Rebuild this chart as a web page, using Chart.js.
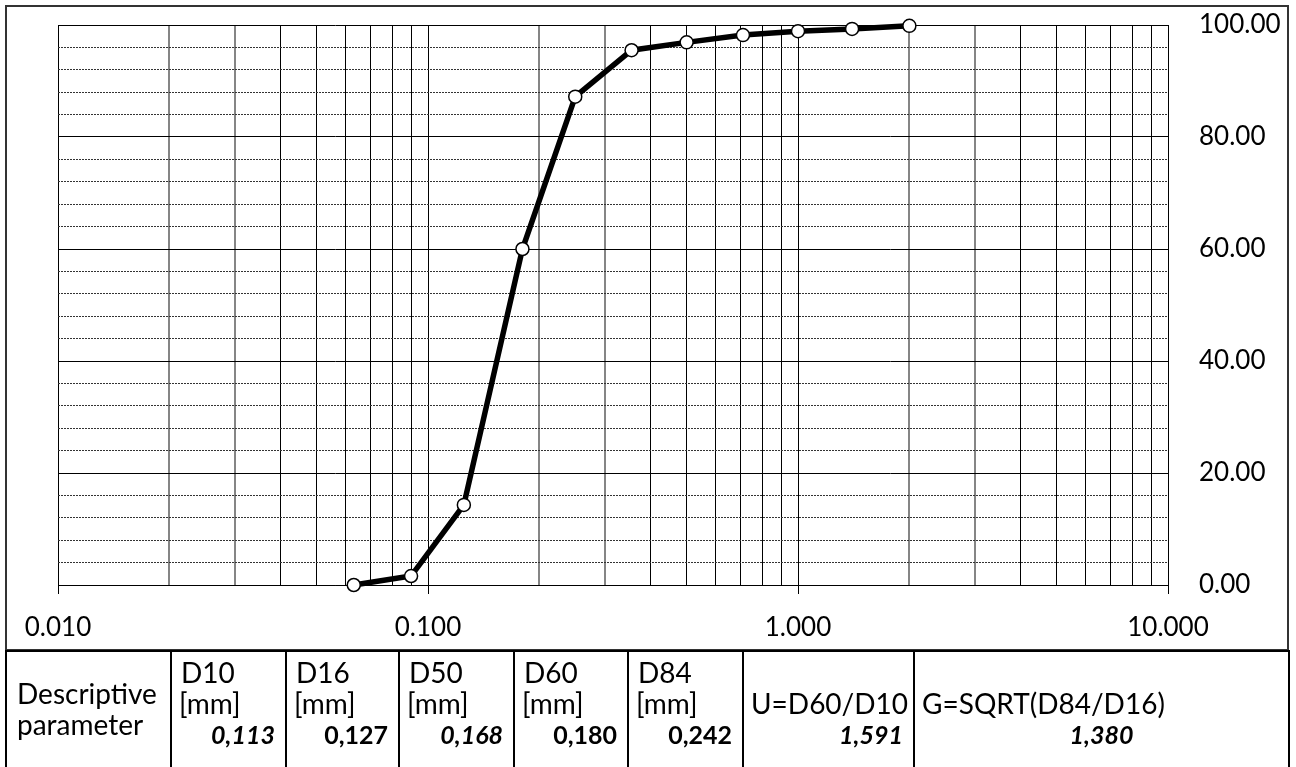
<!DOCTYPE html>
<html>
<head>
<meta charset="utf-8">
<script src="https://cdn.jsdelivr.net/npm/chart.js@4.4.1/dist/chart.umd.min.js"></script>
<style>
  html, body { margin: 0; padding: 0; background: #fff; width: 1296px; height: 767px; overflow: hidden; }
  #wrap { position: absolute; left: 0; top: 0; width: 1296px; height: 650px; }
  #frame { position: absolute; left: 5px; top: 5px; width: 1280px; height: 642px; border: 2px solid #333; pointer-events: none; }
  #table { position: absolute; left: 0; top: 650px; width: 1296px; height: 130px; font-family: Lato, sans-serif; font-size: 28px; color: #000; }
  .col { position: absolute; top: 0; height: 130px; border-left: 2px solid #000; border-top: 2px solid #000; box-sizing: border-box; }
  .line { height: 31px; line-height: 31px; white-space: nowrap; }
  .val { font-weight: bold; font-size: 25px; }
</style>
</head>
<body>
<div id="wrap"><canvas id="c" width="1296" height="650"></canvas></div>
<div id="frame"></div>
<div id="table"></div>
<script>
// ---- data ----
const sieveSizes = [0.063, 0.09, 0.125, 0.18, 0.25, 0.355, 0.5, 0.71, 1.0, 1.4, 2.0];
const passingPercent = [0.0, 1.6, 14.3, 60.0, 87.2, 95.5, 96.9, 98.2, 98.9, 99.3, 99.85];
const xTickValues = [0.01,0.02,0.03,0.04,0.05,0.06,0.07,0.08,0.09,
                     0.1,0.2,0.3,0.4,0.5,0.6,0.7,0.8,0.9,
                     1,2,3,4,5,6,7,8,9,10];
const xMin = 0.01, xMax = 10;
const yMin = 0, yMax = 100, yStep = 4, yLabelStep = 20;

const firstColText = ['Descriptive', 'parameter'];
const paramNames = ['D10', 'D16', 'D50', 'D60', 'D84', '', ''];
const paramUnits = ['[mm]', '[mm]', '[mm]', '[mm]', '[mm]', 'U=D60/D10', 'G=SQRT(D84/D16)'];
const paramValues = ['0,113', '0,127', '0,168', '0,180', '0,242', '1,591', '1,380'];
const paramItalic = [true, false, true, false, false, true, true];

// ---- layout constants ----
const AREA = { left: 58, top: 25, right: 1168, bottom: 585 };
const colEdges = [5, 170, 285, 398, 513, 627, 742, 913, 1288];
const valAlign = ['right', 'right', 'right', 'right', 'right', 'right', 'center'];

function significand(v) {
  const e = Math.floor(Math.log10(v) + 1e-9);
  return Math.round(v / Math.pow(10, e));
}
function isDecade(v) { return significand(v) === 1; }

Chart.defaults.font.family = 'Lato, sans-serif';
Chart.defaults.font.size = 26;
Chart.defaults.color = '#000';

const canvas = document.getElementById('c');
new Chart(canvas, {
  type: 'scatter',
  data: {
    datasets: [{
      data: sieveSizes.map((x, i) => ({ x: x, y: passingPercent[i] })),
      showLine: true,
      borderColor: '#000',
      borderWidth: 5.5,
      tension: 0,
      pointRadius: 6.5,
      pointHoverRadius: 6.5,
      pointBackgroundColor: '#fff',
      pointBorderColor: '#000',
      pointBorderWidth: 1.5,
      clip: false
    }]
  },
  options: {
    responsive: false,
    animation: false,
    events: [],
    layout: { padding: { left: AREA.left, top: AREA.top, right: 0, bottom: 0 } },
    plugins: { legend: { display: false }, tooltip: { enabled: false } },
    scales: {
      x: {
        type: 'logarithmic',
        position: 'bottom',
        min: xMin, max: xMax,
        afterBuildTicks: (s) => { s.ticks = xTickValues.map(v => ({ value: v, major: isDecade(v) })); },
        afterFit: (s) => { s.height = canvas.height - AREA.bottom; s.paddingLeft = 0; s.paddingRight = 0; },
        ticks: {
          autoSkip: false,
          maxRotation: 0,
          minRotation: 0,
          padding: 18,
          callback: (v) => isDecade(v) ? Number(v).toFixed(3) : ''
        },
        grid: {
          drawTicks: true,
          tickLength: 9,
          tickWidth: 1,
          tickColor: (ctx) => (ctx.tick && isDecade(ctx.tick.value)) ? '#000' : 'rgba(0,0,0,0)',
          color: (ctx) => {
            if (!ctx.tick) return '#000';
            const s = significand(ctx.tick.value);
            return (s === 2 || s === 3) ? '#858585' : '#000';
          },
          lineWidth: (ctx) => {
            if (!ctx.tick) return 1;
            const s = significand(ctx.tick.value);
            return (s === 2 || s === 3) ? 2 : 1;
          }
        },
        border: { display: true, color: '#000', width: 1 }
      },
      y: {
        type: 'linear',
        position: 'right',
        min: yMin, max: yMax,
        afterFit: (s) => { s.width = canvas.width - AREA.right; s.paddingTop = 0; s.paddingBottom = 0; },
        ticks: {
          stepSize: yStep,
          autoSkip: false,
          padding: 31,
          callback: (v) => (v % yLabelStep === 0) ? Number(v).toFixed(2) : ''
        },
        grid: {
          drawTicks: false,
          color: (ctx) => (ctx.tick && ctx.tick.value % yLabelStep === 0) ? '#000' : '#333',
          lineWidth: 1
        },
        border: {
          display: true, color: '#000', width: 1,
          dash: (ctx) => (ctx.tick && ctx.tick.value % yLabelStep !== 0) ? [2, 1] : []
        }
      }
    }
  }
});

// ---- table below the chart ----
const table = document.getElementById('table');
function makeCol(i) {
  const d = document.createElement('div');
  d.className = 'col';
  d.style.left = colEdges[i] + 'px';
  d.style.width = (colEdges[i + 1] - colEdges[i] + 2) + 'px';
  if (i === colEdges.length - 2) d.style.borderRight = '2px solid #000';
  table.appendChild(d);
  return d;
}
// first column
{
  const d = makeCol(0);
  const inner = document.createElement('div');
  inner.style.paddingTop = '26px';
  inner.style.paddingLeft = '10px';
  firstColText.forEach(t => {
    const l = document.createElement('div');
    l.className = 'line';
    l.textContent = t;
    inner.appendChild(l);
  });
  d.appendChild(inner);
}
paramNames.forEach((name, k) => {
  const d = makeCol(k + 1);
  const inner = document.createElement('div');
  inner.style.paddingTop = '5px';
  const l1 = document.createElement('div'); l1.className = 'line'; l1.style.paddingLeft = '9px'; l1.textContent = name;
  const l2 = document.createElement('div'); l2.className = 'line'; l2.style.paddingLeft = '7px'; l2.textContent = paramUnits[k];
  const l3 = document.createElement('div'); l3.className = 'line val';
  l3.textContent = paramValues[k];
  l3.style.textAlign = valAlign[k];
  l3.style.paddingRight = valAlign[k] === 'right' ? '12px' : '0';
  if (paramItalic[k]) l3.style.fontStyle = 'italic';
  inner.appendChild(l1); inner.appendChild(l2); inner.appendChild(l3);
  d.appendChild(inner);
});
</script>
</body>
</html>
